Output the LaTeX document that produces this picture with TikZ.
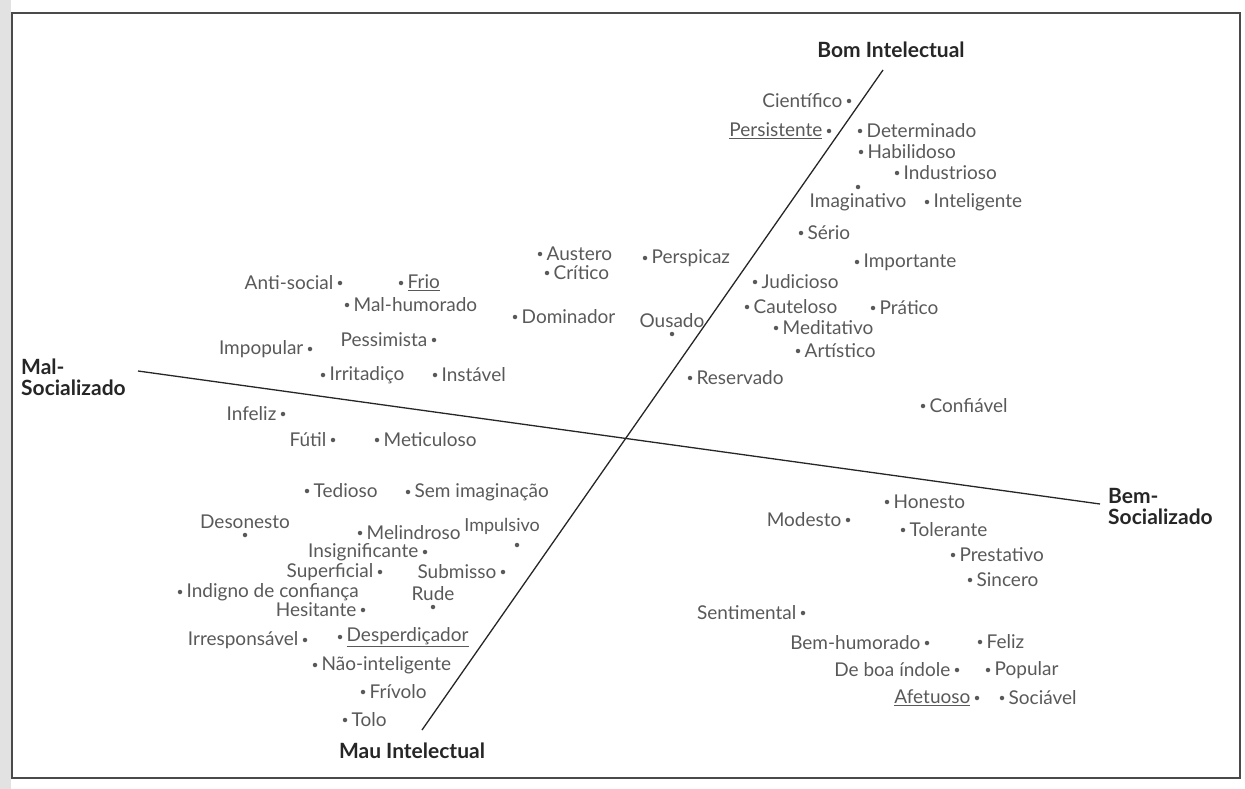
\documentclass[tikz,border=0pt]{standalone}
\usepackage{fontspec}
\setmainfont{Lato}
\definecolor{wordgray}{HTML}{595959}
\definecolor{axisgray}{HTML}{262626}
\definecolor{framegray}{HTML}{4A4A4A}
\definecolor{scangray}{HTML}{E2E2E2}
\begin{document}
\begin{tikzpicture}
[x=1pt,y={(0pt,-1pt)},
  dotdecorate/.style={shape=circle,inner sep=0pt,minimum size=4.5pt,fill=wordgray},%
  worddecorate/.style={inner sep=4pt,text=wordgray,font=\fontsize{19}{22}\selectfont},%
  poledecorate/.style={inner sep=0pt,text=axisgray,align=left,font=\fontsize{21}{21}\selectfont\bfseries},%
  linedecorate/.style={-,line width=1.3pt,draw=axisgray}]
\useasboundingbox (0,0) rectangle (1245,789);
%% page edge and frame
\fill[scangray] (0,0) rectangle (11,789);
\draw[framegray,line width=1.6pt] (12,13) rectangle (1240,778);
%% axes
\coordinate (socleft) at (138,371);
\coordinate (socright) at (1100,504);
\coordinate (inteltop) at (883,70);
\coordinate (intelbottom) at (422,730);
\path (socleft) edge[linedecorate] (socright)
      (inteltop) edge[linedecorate] (intelbottom);
\node[poledecorate,anchor=center] (bom) at (891,50) {Bom Intelectual};
\node[poledecorate,anchor=center] (mau) at (412,751) {Mau Intelectual};
\node[poledecorate,anchor=west] (mal) at (21,377) {Mal-\\Socializado};
\node[poledecorate,anchor=west] (bem) at (1108,506) {Bem-\\Socializado};
%% traits (dot, then word beside it)
\foreach \nodename/\x/\y/\direction/\navigate/\word in {
  antisocial/340/283/left/west/Anti-social,
  frio/401/283/right/east/\underline{Frio},
  malhumorado/347/305/right/east/Mal-humorado,
  impopular/310/349/left/west/Impopular,
  pessimista/434/340/left/west/Pessimista,
  irritadico/323/375/right/east/Irritadiço,
  instavel/435/375/right/east/Instável,
  austero/540/254/right/east/Austero,
  critico/547/273/right/east/Crítico,
  perspicaz/645/258/right/east/Perspicaz,
  dominador/515/317/right/east/Dominador,
  ousado/672/334/above/north/Ousado,
  reservado/690/378/right/east/Reservado,
  cientifico/849/101/left/west/Científico,
  persistente/829/131/left/west/\underline{Persistente},
  determinado/860/131/right/east/Determinado,
  habilidoso/861/152/right/east/Habilidoso,
  industrioso/897/173/right/east/Industrioso,
  imaginativo/858/187/below/south/Imaginativo,
  inteligente/927/202/right/east/Inteligente,
  serio/801/233/right/east/Sério,
  importante/857/262/right/east/Importante,
  judicioso/755/282/right/east/Judicioso,
  cauteloso/747/307/right/east/Cauteloso,
  pratico/873/308/right/east/Prático,
  meditativo/776/328/right/east/Meditativo,
  artistico/798/351/right/east/Artístico,
  confiavel/923/406/right/east/Confiável,
  infeliz/283/414/left/west/Infeliz,
  futil/333/440/left/west/Fútil,
  meticuloso/377/440/right/east/Meticuloso,
  tedioso/307/491/right/east/Tedioso,
  semimaginacao/408/492/right/east/Sem imaginação,
  desonesto/245/535/above/north/Desonesto,
  melindroso/360/533/right/east/Melindroso,
  insignificante/425/552/left/west/Insignificante,
  superficial/380/572/left/west/Superficial,
  submisso/503/572/left/west/Submisso,
  indigno/180/592/right/east/Indigno de confiança,
  rude/433/607/above/north/Rude,
  hesitante/363/610/left/west/Hesitante,
  irresponsavel/305/640/left/west/Irresponsável,
  desperdicador/340/637/right/east/\underline{Desperdiçador},
  naointeligente/315/665/right/east/Não-inteligente,
  frivolo/363/692/right/east/Frívolo,
  tolo/345/720/right/east/Tolo,
  honesto/887/502/right/east/Honesto,
  modesto/848/520/left/west/Modesto,
  tolerante/903/530/right/east/Tolerante,
  prestativo/953/555/right/east/Prestativo,
  sincero/970/580/right/east/Sincero,
  sentimental/803/613/left/west/Sentimental,
  bemhumorado/927/643/left/west/Bem-humorado,
  feliz/980/642/right/east/Feliz,
  deboaindole/957/670/left/west/De boa índole,
  popular/988/670/right/east/Popular,
  afetuoso/977/698/left/west/\underline{Afetuoso},
  sociavel/1002/698/right/east/Sociável} {
  \node (\nodename) at (\x,\y) [dotdecorate] {};
  \node [worddecorate,\direction] at (\nodename.\navigate) {\word};
}
%% the one word set off to the left of its dot
\node (impulsivo) at (517,545) [dotdecorate] {};
\node [worddecorate,font=\fontsize{18}{20}\selectfont,anchor=south east]
  at ([xshift=27pt,yshift=4pt]impulsivo.north) {Impulsivo};
\end{tikzpicture}
\end{document}
